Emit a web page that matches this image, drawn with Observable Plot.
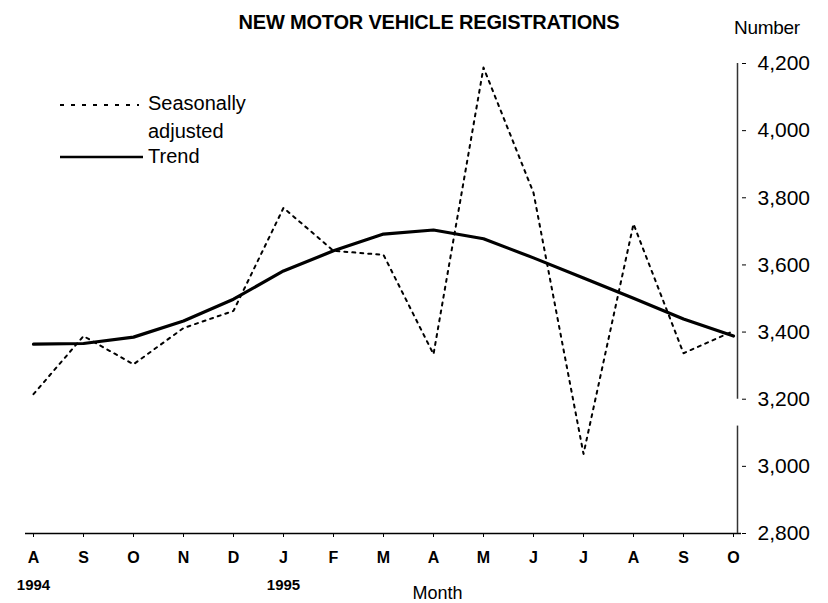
<!DOCTYPE html>
<html>
<head>
<meta charset="utf-8">
<script src="https://cdn.jsdelivr.net/npm/d3@7"></script>
<script src="https://cdn.jsdelivr.net/npm/@observablehq/plot@0.6"></script>
<style>
  html, body { margin: 0; padding: 0; background: #fff; }
  #chart { width: 828px; height: 603px; }
</style>
</head>
<body>
<div id="chart"></div>
<script>
// ---- data ----
const months = ["1994-08","1994-09","1994-10","1994-11","1994-12","1995-01","1995-02","1995-03","1995-04","1995-05","1995-06","1995-07","1995-08","1995-09","1995-10"];
const monthLetters = ["A","S","O","N","D","J","F","M","A","M","J","J","A","S","O"];
const seasonallyAdjusted = [3215,3388,3304,3412,3463,3770,3642,3630,3334,4188,3815,3037,3722,3337,3403];
const trend = [3364,3366,3385,3433,3498,3582,3642,3692,3704,3678,3621,3561,3501,3439,3388];
const yTicks = [2800,3000,3200,3400,3600,3800,4000,4200];
const yearMonths = ["1994-08","1995-01"];
const yearLabels = ["1994","1995"];
const axisSegments = [[3200,4200],[2800,3120]];
const title = "NEW MOTOR VEHICLE REGISTRATIONS";
const yUnit = "Number";
const xTitle = "Month";
const seriesNames = ["Seasonally", "adjusted", "Trend"];

const saData = months.map((m, i) => ({month: m, value: seasonallyAdjusted[i]}));
const trendData = months.map((m, i) => ({month: m, value: trend[i]}));
const letterOf = new Map(months.map((m, i) => [m, monthLetters[i]]));
const lastMonth = months[months.length - 1];

const font = "'Liberation Sans', Arial, Helvetica, sans-serif";

const svg = Plot.plot({
  width: 828,
  height: 603,
  marginTop: 63,
  marginBottom: 70,
  marginLeft: 25,
  marginRight: 87,
  style: {fontFamily: font, background: "#fff", color: "#000", overflow: "visible"},
  x: {type: "point", domain: months, range: [28, 737], padding: 0},
  y: {domain: [2800, 4200], range: [533, 63]},
  marks: [
    Plot.ruleY([2800], {stroke: "#000", strokeWidth: 1.5}),
    Plot.ruleX(axisSegments, {x: () => lastMonth, y1: d => d[0], y2: d => d[1], dx: 4, stroke: "#333", strokeWidth: 1.5}),
    Plot.axisY({anchor: "right", ticks: yTicks, tickFormat: d3.format(","), tickSize: 4, tickPadding: 12, fontSize: 21, label: null}),
    Plot.axisX({ticks: months, tickFormat: d => letterOf.get(d), tickSize: 4, tickPadding: 14, fontSize: 16, fontWeight: "bold", label: null}),
    Plot.text(yearMonths, {x: d => d, text: (d, i) => yearLabels[i], frameAnchor: "bottom", dy: 52, fontSize: 15, fontWeight: "bold", lineAnchor: "middle", letterSpacing: -1.2}),
    Plot.text([xTitle], {x: () => "1995-04", text: d => d, frameAnchor: "bottom", dy: 60, dx: 4, fontSize: 18, lineAnchor: "middle", letterSpacing: -0.6}),
    Plot.line(saData, {x: "month", y: "value", stroke: "#000", strokeWidth: 2, strokeDasharray: "3,5"}),
    Plot.line(trendData, {x: "month", y: "value", stroke: "#000", strokeWidth: 3.2})
  ]
});

// title, unit label and legend as text inside the same SVG
const g = d3.select(svg).append("g").attr("font-family", font).attr("fill", "#000").attr("text-anchor", "start");
g.append("text").attr("x", 429).attr("y", 22).attr("text-anchor", "middle").attr("dominant-baseline", "central")
  .attr("font-size", 20).attr("font-weight", "bold").attr("letter-spacing", -0.2).text(title);
g.append("text").attr("x", 767).attr("y", 27).attr("text-anchor", "middle").attr("dominant-baseline", "central")
  .attr("font-size", 19).attr("letter-spacing", -0.3).text(yUnit);

const lg = g.append("g");
lg.append("line").attr("x1", 60).attr("x2", 139).attr("y1", 105).attr("y2", 105)
  .attr("stroke", "#000").attr("stroke-width", 2).attr("stroke-dasharray", "4,7");
lg.append("line").attr("x1", 60).attr("x2", 143).attr("y1", 157).attr("y2", 157)
  .attr("stroke", "#000").attr("stroke-width", 2.5);
lg.append("text").attr("x", 148).attr("y", 103).attr("text-anchor", "start").attr("dominant-baseline", "central").attr("font-size", 20).text(seriesNames[0]);
lg.append("text").attr("x", 148).attr("y", 131).attr("text-anchor", "start").attr("dominant-baseline", "central").attr("font-size", 20).text(seriesNames[1]);
lg.append("text").attr("x", 148).attr("y", 156).attr("text-anchor", "start").attr("dominant-baseline", "central").attr("font-size", 20).text(seriesNames[2]);

document.getElementById("chart").appendChild(svg);
</script>
</body>
</html>
